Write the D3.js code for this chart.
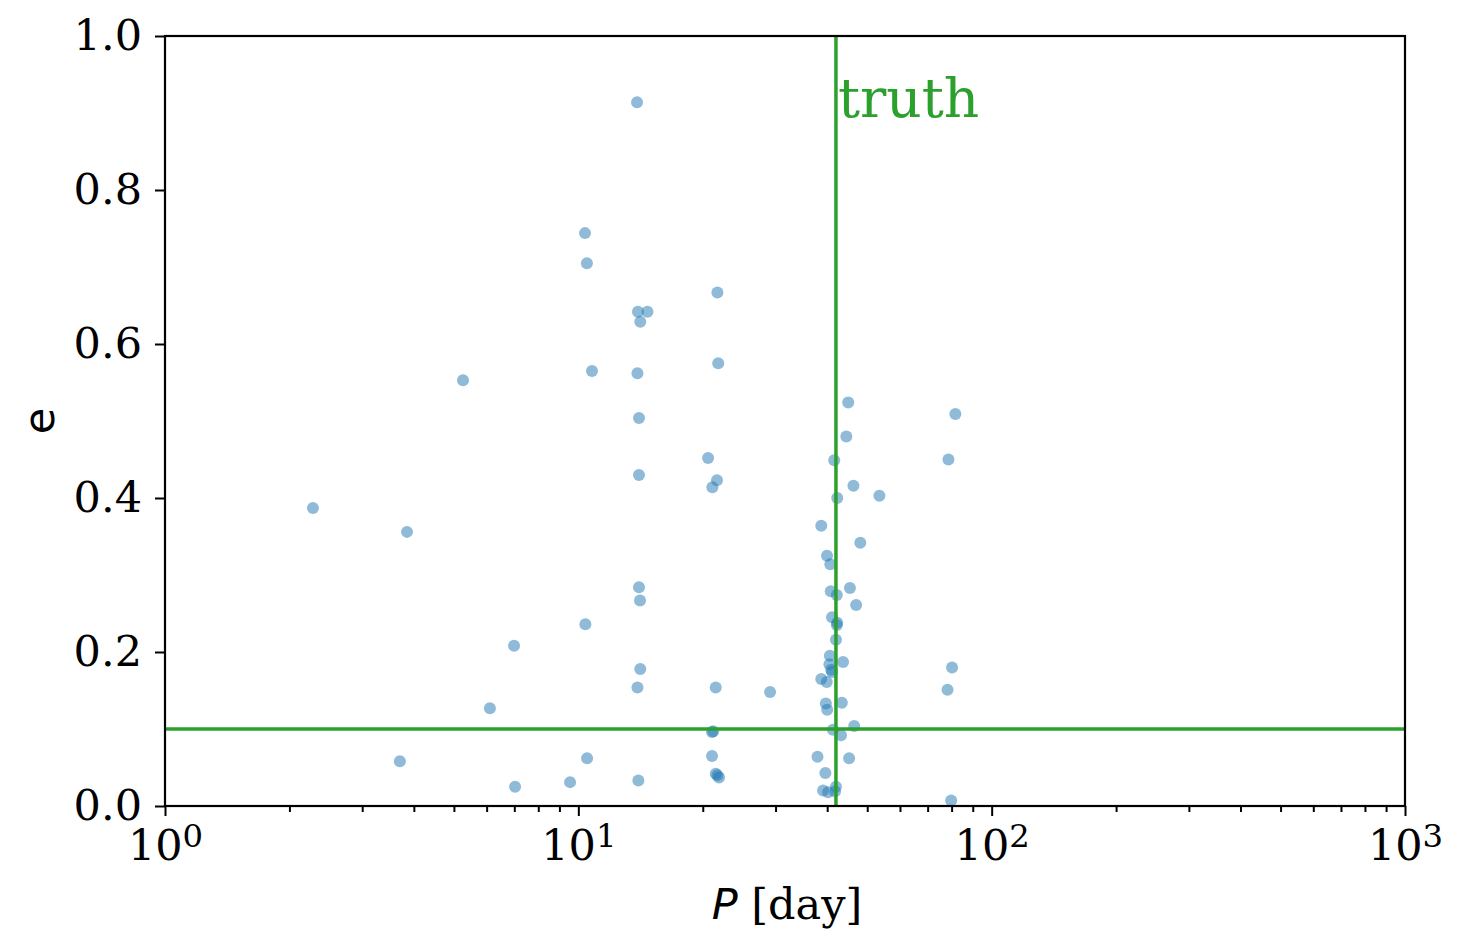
<!DOCTYPE html>
<html>
<head>
<meta charset="utf-8">
<script src="https://cdn.jsdelivr.net/npm/d3@7"></script>
<style>
  body { margin: 0; background: #fff; }
  svg { display: block; }
</style>
</head>
<body>
<div id="chart"></div>
<script>
// orbital period samples [day]
var periods = [
  13.87, 10.38, 10.49, 21.7, 13.94, 14.7, 14.12, 5.26, 10.79, 13.9,
  21.8, 44.97, 81.7, 14.02, 44.5, 20.6, 41.6, 78.6, 14.02, 21.65,
  21.1, 46.3, 42.3, 53.5, 2.28, 3.85, 38.7, 48.1, 39.96, 40.7,
  14.02, 45.4, 40.8, 42.2, 14.1, 47.0, 41.1, 42.3, 42.2, 10.4,
  6.99, 42.0, 40.6, 40.5, 43.7, 40.9, 41.1, 80.2, 38.7, 39.9,
  14.12, 13.9, 21.5, 29.1, 78.2, 39.7, 40.0, 43.4, 6.11, 46.5,
  21.06, 21.2, 41.3, 43.2, 37.9, 45.2, 21.06, 10.5, 3.70, 39.6,
  21.5, 21.9, 21.7, 9.55, 13.97, 7.03, 42.0, 39.1, 40.2, 41.8,
  79.8
];
// eccentricity samples
var eccs = [
  0.914, 0.744, 0.705, 0.667, 0.642, 0.642, 0.629, 0.553, 0.565, 0.562,
  0.575, 0.524, 0.509, 0.504, 0.480, 0.452, 0.449, 0.450, 0.430, 0.423,
  0.414, 0.416, 0.400, 0.403, 0.387, 0.356, 0.364, 0.342, 0.325, 0.314,
  0.284, 0.283, 0.279, 0.274, 0.267, 0.261, 0.245, 0.238, 0.235, 0.236,
  0.208, 0.216, 0.195, 0.184, 0.187, 0.177, 0.174, 0.180, 0.165, 0.161,
  0.178, 0.154, 0.154, 0.148, 0.151, 0.133, 0.125, 0.134, 0.127, 0.104,
  0.096, 0.097, 0.099, 0.092, 0.064, 0.062, 0.065, 0.062, 0.058, 0.043,
  0.042, 0.037, 0.040, 0.031, 0.033, 0.025, 0.025, 0.020, 0.018, 0.019,
  0.007
];
var truthP = 42.0;
var truthE = 0.1;

var xTicks = [1, 10, 100, 1000];
var yTicks = [0, 0.2, 0.4, 0.6, 0.8, 1.0];

var W = 1462, H = 949;
var margin = {left: 165, top: 36, right: 57, bottom: 143};
var width = W - margin.left - margin.right;
var height = H - margin.top - margin.bottom;

var x = d3.scaleLog().domain([1, 1000]).range([0, width]);
var y = d3.scaleLinear().domain([0, 1]).range([height, 0]);

var minor = [];
[1, 10, 100].forEach(function(b) {
  for (var k = 2; k <= 9; k++) minor.push(b * k);
});

var svg = d3.select("#chart").append("svg")
  .attr("width", W)
  .attr("height", H);

var g = svg.append("g")
  .attr("transform", "translate(" + margin.left + "," + margin.top + ")");

var pts = periods.map(function(p, i) { return {p: p, e: eccs[i]}; });

g.selectAll("circle.pt")
  .data(pts).enter()
  .append("circle")
  .attr("class", "pt")
  .attr("cx", function(d) { return x(d.p); })
  .attr("cy", function(d) { return y(d.e); })
  .attr("r", 6)
  .attr("fill", "#1f77b4")
  .attr("fill-opacity", 0.5);

// truth lines
g.append("line")
  .attr("x1", x(truthP)).attr("x2", x(truthP))
  .attr("y1", 0).attr("y2", height)
  .attr("stroke", "#2ca02c").attr("stroke-width", 3.5);
g.append("line")
  .attr("x1", 0).attr("x2", width)
  .attr("y1", y(truthE)).attr("y2", y(truthE))
  .attr("stroke", "#2ca02c").attr("stroke-width", 3.5);

g.append("text")
  .attr("x", x(truthP) + 2)
  .attr("y", y(0.895))
  .attr("font-family", "DejaVu Serif")
  .attr("font-size", 55)
  .attr("fill", "#2ca02c")
  .text("truth");

// axes
var xMinor = d3.axisBottom(x).tickValues(minor).tickSize(6).tickFormat("");
g.append("g")
  .attr("class", "x minor")
  .attr("transform", "translate(0," + height + ")")
  .call(xMinor);

var xAxis = d3.axisBottom(x).tickValues(xTicks).tickSize(10).tickPadding(13);
var xg = g.append("g")
  .attr("class", "x axis")
  .attr("transform", "translate(0," + height + ")")
  .call(xAxis);

xg.selectAll(".tick text").each(function(d) {
  var t = d3.select(this);
  t.text(null);
  t.append("tspan").text("10");
  t.append("tspan")
    .attr("dy", -13)
    .attr("font-size", "0.75em")
    .text(Math.round(Math.log10(d)));
});

var yAxis = d3.axisLeft(y).tickValues(yTicks).tickSize(10).tickPadding(13)
  .tickFormat(d3.format(".1f"));
g.append("g")
  .attr("class", "y axis")
  .call(yAxis);

g.selectAll(".axis text, .minor text")
  .attr("font-family", "DejaVu Serif")
  .attr("font-size", 43)
  .attr("fill", "#000");
g.selectAll(".tick line")
  .attr("stroke", "#000")
  .attr("stroke-width", 2);
g.selectAll(".domain").remove();

// frame
g.append("rect")
  .attr("x", 0).attr("y", 0)
  .attr("width", width).attr("height", height)
  .attr("fill", "none")
  .attr("stroke", "#000")
  .attr("stroke-width", 2.2);

// axis labels
var xl = svg.append("text")
  .attr("x", margin.left + width / 2 + 2)
  .attr("y", 919)
  .attr("text-anchor", "middle")
  .attr("font-size", 43);
xl.append("tspan")
  .attr("font-family", "DejaVu Sans")
  .attr("font-style", "italic")
  .text("P");
xl.append("tspan")
  .attr("font-family", "DejaVu Serif")
  .text(" [day]");

svg.append("text")
  .attr("transform", "translate(54," + (margin.top + height / 2) + ") rotate(-90)")
  .attr("text-anchor", "middle")
  .attr("font-family", "DejaVu Sans")
  .attr("font-size", 43)
  .text("e");
</script>
</body>
</html>
